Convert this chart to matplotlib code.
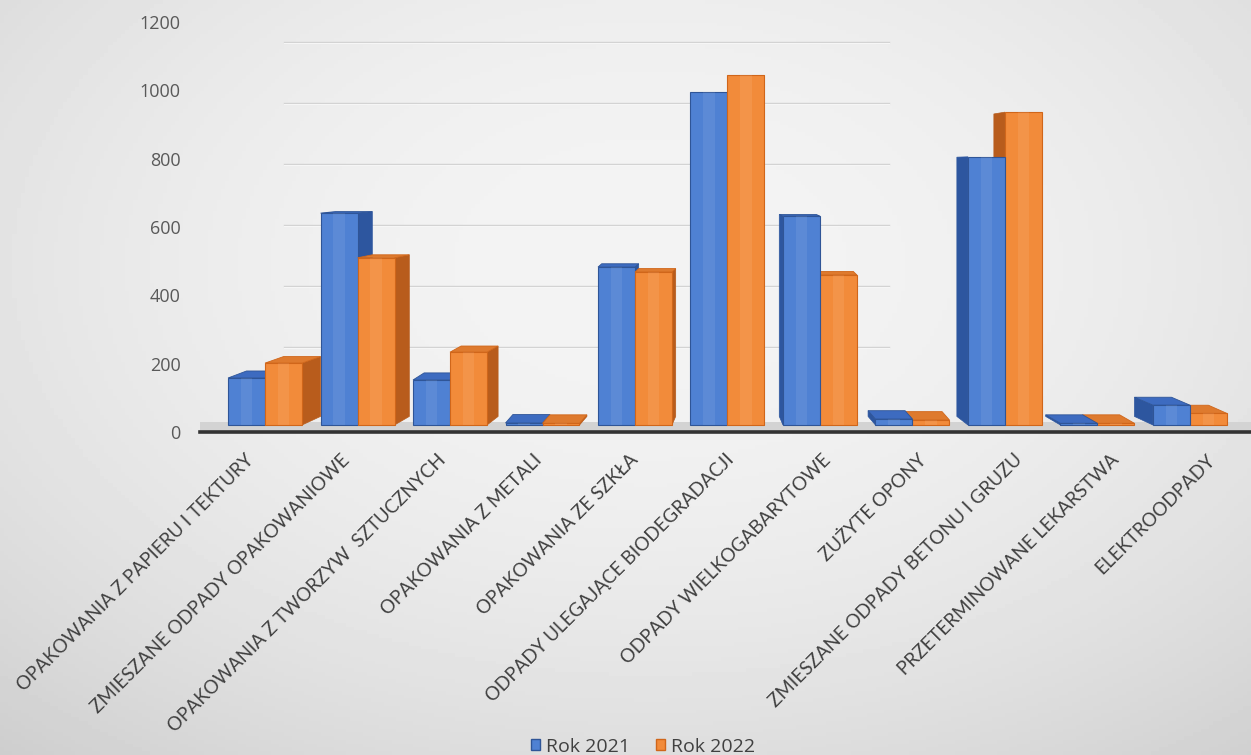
import numpy as np
import matplotlib
matplotlib.use("Agg")
from matplotlib import pyplot as plt
from matplotlib.patches import Polygon, Patch
from matplotlib.transforms import ScaledTranslation

categories = ['OPAKOWANIA Z PAPIERU I TEKTURY', 'ZMIESZANE ODPADY OPAKOWANIOWE',
              'OPAKOWANIA Z TWORZYW  SZTUCZNYCH', 'OPAKOWANIA Z METALI',
              'OPAKOWANIA ZE SZKŁA', 'ODPADY ULEGAJĄCE BIODEGRADACJI',
              'ODPADY WIELKOGABARYTOWE', 'ZUŻYTE OPONY',
              'ZMIESZANE ODPADY BETONU I GRUZU', 'PRZETERMINOWANE LEKARSTWA',
              'ELEKTROODPADY']
rok_2021 = [142, 640, 136, 6, 477, 1006, 631, 18, 810, 5, 60]
rok_2022 = [187, 505, 220, 5, 462, 1057, 453, 15, 945, 5, 35]
series_names = ['Rok 2021', 'Rok 2022']
y_ticks = [0, 200, 400, 600, 800, 1000, 1200]

# colours: front, side, top, edge
BLUE = ('#4f81d3', '#2d569f', '#3d6bc0', '#2f5597')
ORANGE = ('#f28b3a', '#b85c1c', '#de7a2e', '#d0661a')

# fake 3d: bars sit a bit behind the front plane
FLOOR = 20.5
SCALE = 0.969
BAR_W = 0.4


def depth_x(i):
    return 0.04 * (5 - i)


def depth_y(v):
    return 0.0322 * (778 - v)


def draw_bar(ax, x0, x1, v, dx, colors, z):
    front, side, top, edge = colors
    b = FLOOR
    t = FLOOR + v * SCALE
    dyb = depth_y(0)
    dyt = depth_y(v)
    if dx >= 0:
        sx = x1
    else:
        sx = x0
    ax.add_patch(Polygon([(sx, b), (sx + dx, b + dyb), (sx + dx, t + dyt), (sx, t)],
                         closed=True, facecolor=side, edgecolor=side, lw=0.5, zorder=z))
    if dyt > 0:
        ax.add_patch(Polygon([(x0, t), (x1, t), (x1 + dx, t + dyt), (x0 + dx, t + dyt)],
                             closed=True, facecolor=top, edgecolor=edge, lw=0.6, zorder=z + 0.1))
    ax.bar(x0, t - b, width=x1 - x0, bottom=b, align='edge', color=front,
           edgecolor=edge, linewidth=0.8, zorder=z + 0.2)
    # light stripe like the excel bevel
    ax.bar(x0 + (x1 - x0) * 0.35, t - b, width=(x1 - x0) * 0.3, bottom=b, align='edge',
           color='white', alpha=0.08, linewidth=0, zorder=z + 0.3)


fig = plt.figure(figsize=(12.51, 7.55), dpi=100)

# background gradient
bg = fig.add_axes([0, 0, 1, 1], zorder=-10)
gx, gy = np.meshgrid(np.linspace(0, 1, 300), np.linspace(0, 1, 200))
r2 = ((gx - 0.52) / 0.75) ** 2 + ((gy - 0.35) / 0.8) ** 2
shade = 0.955 - 0.13 * r2
bg.imshow(shade, cmap='gray', vmin=0, vmax=1, aspect='auto', extent=[0, 1, 0, 1])
bg.axis('off')

ax = fig.add_axes([200 / 1251, 323 / 755, 1051 / 1251, 410 / 755])
ax.set_facecolor('none')
ax.set_ylim(0, 1200)
ax.set_xlim(-0.703, 10.66)

# back wall gridlines (drawn in perspective)
for g in y_ticks[1:]:
    yv = (24 + 0.305 * g) / 0.3417
    ax.plot([0.2, 6.75], [yv, yv], color='#d2d2d2', lw=1.0, zorder=1)
    ax.plot([0.2, 6.75], [yv - 2, yv - 2], color='#f6f6f6', lw=0.8, zorder=1)

# floor
xs = np.arange(len(categories))
ax.fill_between([-0.703, 10.66], 0, 30, color='#d3d3d3', zorder=1.5, lw=0)

for i in xs:
    dx = depth_x(i)
    blue = (i - BAR_W, i, rok_2021[i], dx, BLUE)
    orange = (i, i + BAR_W, rok_2022[i], dx, ORANGE)
    order = [blue, orange] if dx >= 0 else [orange, blue]
    z = 3
    for x0, x1, v, d, c in order:
        draw_bar(ax, x0, x1, v, d, c, z)
        z += 1

ax.set_yticks(y_ticks)
ax.set_yticklabels([str(t) for t in y_ticks], fontsize=13, color='#595959', family='Open Sans')
ax.set_xticks(xs)
ax.set_xticklabels([])
# category labels, spread a bit wider than the bars (perspective of the original)
for i, name in enumerate(categories):
    off = ScaledTranslation((-20 + 3.6 * i) / 100, -19 / 100, fig.dpi_scale_trans)
    ax.text(i, 0, name, transform=ax.get_xaxis_transform() + off, rotation=45,
            ha='right', va='top', rotation_mode='anchor', fontsize=13.5,
            color='#404040', family='Lato')
ax.tick_params(axis='y', length=0, pad=14)
ax.tick_params(axis='x', length=0)
for s in ['left', 'right', 'top']:
    ax.spines[s].set_visible(False)
ax.spines['bottom'].set_color('#333333')
ax.spines['bottom'].set_linewidth(2.6)
ax.spines['bottom'].set_zorder(20)

handles = [Patch(facecolor=BLUE[0], edgecolor=BLUE[3]), Patch(facecolor=ORANGE[0], edgecolor=ORANGE[3])]
fig.legend(handles, series_names, loc='center', bbox_to_anchor=(0.514, 0.011), ncol=2,
           frameon=False, handlelength=0.5, handleheight=0.5, handletextpad=0.3,
           columnspacing=1.3, labelcolor='#404040', prop={'family': 'Open Sans', 'size': 14})

plt.savefig('out.png', dpi=100)
